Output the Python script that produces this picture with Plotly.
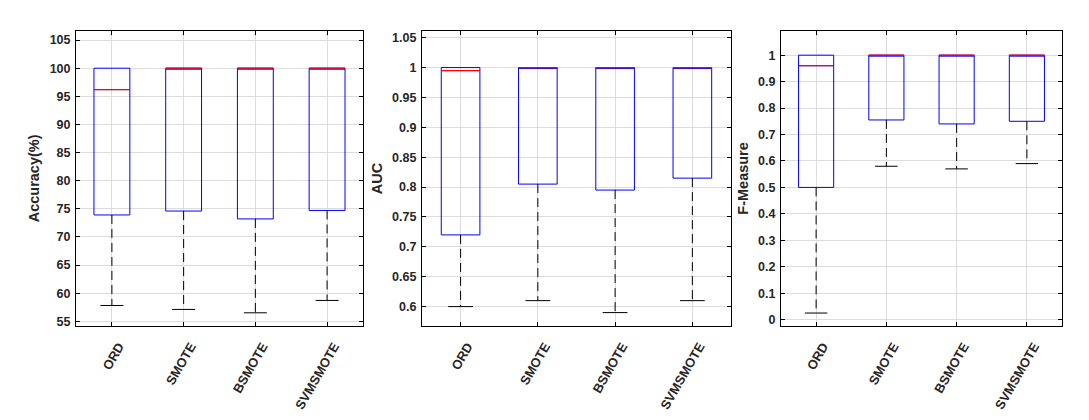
import plotly.graph_objects as go

# categories
methods = ['ORD', 'SMOTE', 'BSMOTE', 'SVMSMOTE']
pos = [1, 2, 3, 4]

# Accuracy(%)
acc_lo = [57.8, 57.1, 56.5, 58.7]
acc_q1 = [73.9, 74.6, 73.2, 74.7]
acc_med = [96.2, 100, 100, 100]
acc_q3 = [100, 100, 100, 100]
acc_hi = [100, 100, 100, 100]

# AUC
auc_lo = [0.60, 0.61, 0.59, 0.61]
auc_q1 = [0.72, 0.805, 0.795, 0.815]
auc_med = [0.995, 1, 1, 1]
auc_q3 = [1, 1, 1, 1]
auc_hi = [1, 1, 1, 1]

# F-Measure
fm_lo = [0.025, 0.58, 0.57, 0.59]
fm_q1 = [0.50, 0.755, 0.74, 0.75]
fm_med = [0.96, 1, 1, 1]
fm_q3 = [1, 1, 1, 1]
fm_hi = [1, 1, 1, 1]

panels = [
    ('Accuracy(%)', acc_lo, acc_q1, acc_med, acc_q3, acc_hi),
    ('AUC', auc_lo, auc_q1, auc_med, auc_q3, auc_hi),
    ('F-Measure', fm_lo, fm_q1, fm_med, fm_q3, fm_hi),
]

BOXW = 0.5
CAPW = 0.16
txt = '#262626'
FONT = 'Liberation Sans, Arial'

fig = go.Figure()

for i, (name, lo, q1, med, q3, hi) in enumerate(panels):
    xa = 'x' if i == 0 else 'x%d' % (i + 1)
    ya = 'y' if i == 0 else 'y%d' % (i + 1)

    # dashed whiskers + caps (upper ones only when longer than zero)
    wx, wy, cx, cy = [], [], [], []
    for p, a, b, c, d in zip(pos, lo, q1, q3, hi):
        wx += [p, p, None]
        wy += [b, a, None]
        cx += [p - CAPW, p + CAPW, None]
        cy += [a, a, None]
        if d > c:
            wx += [p, p, None]
            wy += [c, d, None]
            cx += [p - CAPW, p + CAPW, None]
            cy += [d, d, None]
    fig.add_trace(go.Scatter(
        x=wx, y=wy, mode='lines', line=dict(color='black', width=1, dash='9px,5px'),
        showlegend=False, xaxis=xa, yaxis=ya, hoverinfo='skip'
    ))
    fig.add_trace(go.Scatter(
        x=cx, y=cy, mode='lines', line=dict(color='black', width=1),
        showlegend=False, xaxis=xa, yaxis=ya, hoverinfo='skip'
    ))

    # blue boxes
    fig.add_trace(go.Box(
        x=pos, q1=q1, median=med, q3=q3, lowerfence=q1, upperfence=q3,
        width=BOXW, whiskerwidth=0, boxpoints=False,
        line=dict(color='#0000ff', width=1), fillcolor='rgba(0,0,0,0)',
        showlegend=False, xaxis=xa, yaxis=ya, hoverinfo='skip'
    ))

    # red medians
    mx, my = [], []
    for p, m in zip(pos, med):
        mx += [p - BOXW / 2, p + BOXW / 2, None]
        my += [m, m, None]
    fig.add_trace(go.Scatter(
        x=mx, y=my, mode='lines', line=dict(color='#ff0000', width=1.2),
        showlegend=False, xaxis=xa, yaxis=ya, hoverinfo='skip'
    ))

axis_common = dict(
    showline=True, linecolor='black', linewidth=1, mirror='ticks',
    ticks='inside', ticklen=4, tickcolor='black',
    showgrid=True, gridcolor='#dcdcdc', gridwidth=1, zeroline=False,
)

# page body adds an 8px margin, so the figure is 16px smaller than the window
xdomains = [[0.0634, 0.3308], [0.3858, 0.6738], [0.7204, 0.9823]]
yranges = [[54.2, 106.6], [0.568, 1.061], [-0.023, 1.091]]
ydticks = [5, 0.05, 0.1]

layout = dict(
    width=1073, height=404,
    margin=dict(l=0, r=0, t=0, b=0),
    paper_bgcolor='white', plot_bgcolor='white',
    font=dict(family=FONT, color=txt),
)
for i in range(3):
    sx = '' if i == 0 else str(i + 1)
    layout['xaxis' + sx] = dict(
        axis_common, domain=xdomains[i], range=[0.5, 4.5], anchor='y' + sx,
        tickmode='array', tickvals=pos, ticktext=methods, tickangle=-60,
        ticklabelstandoff=7, ticklabelshift=7,
        tickfont=dict(family=FONT, size=13, color=txt, weight='bold'),
    )
    layout['yaxis' + sx] = dict(
        axis_common, domain=[0.1832, 0.9406], range=yranges[i], anchor='x' + sx,
        dtick=ydticks[i], tick0=0, ticklabelstandoff=2,
        tickfont=dict(family=FONT, size=12.5, color=txt, weight='bold'),
        title=dict(text='<b>%s</b>' % panels[i][0], standoff=6,
                   font=dict(family=FONT, size=14.5, color=txt)),
    )

fig.update_layout(**layout)

fig.write_html('out.html')
